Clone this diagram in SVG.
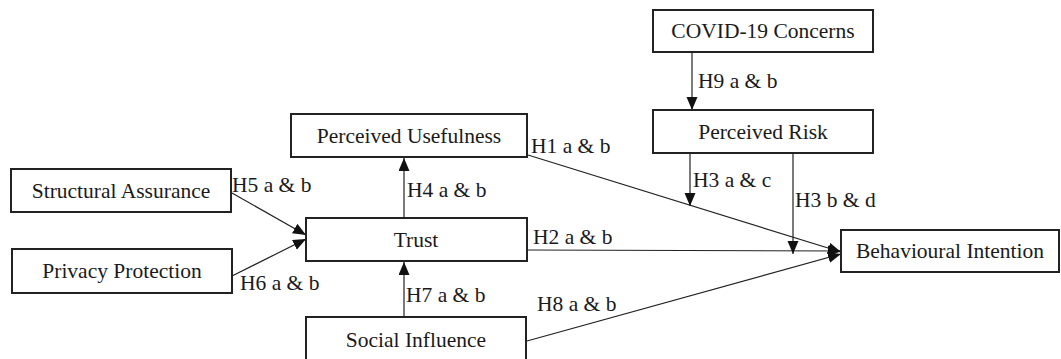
<svg xmlns="http://www.w3.org/2000/svg" width="1061" height="359" viewBox="0 0 1061 359">
<style>
.box{fill:#fff;stroke:#222;stroke-width:2}
.t{font-family:"Liberation Serif","Times New Roman",serif;font-size:21.5px;fill:#1a1a1a}
.c{text-anchor:middle}
.ln{stroke:#222;stroke-width:1.2;fill:none;marker-end:url(#ah)}
</style>
<defs>
<marker id="ah" markerUnits="userSpaceOnUse" markerWidth="14" markerHeight="12" refX="13" refY="5.5" orient="auto">
<path d="M0,0 L13,5.5 L0,11 z" fill="#111"/>
</marker>
</defs>
<rect width="1061" height="359" fill="#fff"/>
<g id="connectors">
<line class="ln" x1="232" y1="193" x2="306" y2="235"/>
<line class="ln" x1="232" y1="276" x2="306" y2="239"/>
<line class="ln" x1="404" y1="218" x2="404" y2="158"/>
<line class="ln" x1="404" y1="317" x2="404" y2="262"/>
<line class="ln" x1="528" y1="155" x2="841" y2="252"/>
<line class="ln" x1="527" y1="250" x2="841" y2="251"/>
<line class="ln" x1="527" y1="341" x2="841" y2="254"/>
<line class="ln" x1="692" y1="53" x2="692" y2="110"/>
<line class="ln" x1="690" y1="154" x2="690" y2="206"/>
<line class="ln" x1="793" y1="154" x2="793" y2="254"/>
<text class="t" x="232" y="192">H5 a &amp; b</text>
<text class="t" x="240" y="290">H6 a &amp; b</text>
<text class="t" x="407" y="197">H4 a &amp; b</text>
<text class="t" x="406" y="302">H7 a &amp; b</text>
<text class="t" x="531" y="153">H1 a &amp; b</text>
<text class="t" x="533" y="244">H2 a &amp; b</text>
<text class="t" x="537" y="311">H8 a &amp; b</text>
<text class="t" x="698" y="88">H9 a &amp; b</text>
<text class="t" x="693" y="187">H3 a &amp; c</text>
<text class="t" x="795" y="207">H3 b &amp; d</text>
</g>
<g id="structural-assurance"><rect class="box" x="11" y="169" width="220" height="43"/><text class="t c" x="121" y="198">Structural Assurance</text></g>
<g id="privacy-protection"><rect class="box" x="12" y="249" width="220" height="44"/><text class="t c" x="122" y="278">Privacy Protection</text></g>
<g id="perceived-usefulness"><rect class="box" x="291" y="114" width="236" height="43"/><text class="t c" x="409" y="143">Perceived Usefulness</text></g>
<g id="trust"><rect class="box" x="306" y="218" width="221" height="43"/><text class="t c" x="416" y="247">Trust</text></g>
<g id="social-influence"><rect class="box" x="306" y="317" width="220" height="45"/><text class="t c" x="416" y="347">Social Influence</text></g>
<g id="covid-19-concerns"><rect class="box" x="653" y="10" width="220" height="42"/><text class="t c" x="763" y="38">COVID-19 Concerns</text></g>
<g id="perceived-risk"><rect class="box" x="653" y="110" width="220" height="43"/><text class="t c" x="763" y="139">Perceived Risk</text></g>
<g id="behavioural-intention"><rect class="box" x="841" y="230" width="218" height="42"/><text class="t c" x="950" y="258">Behavioural Intention</text></g>
</svg>
